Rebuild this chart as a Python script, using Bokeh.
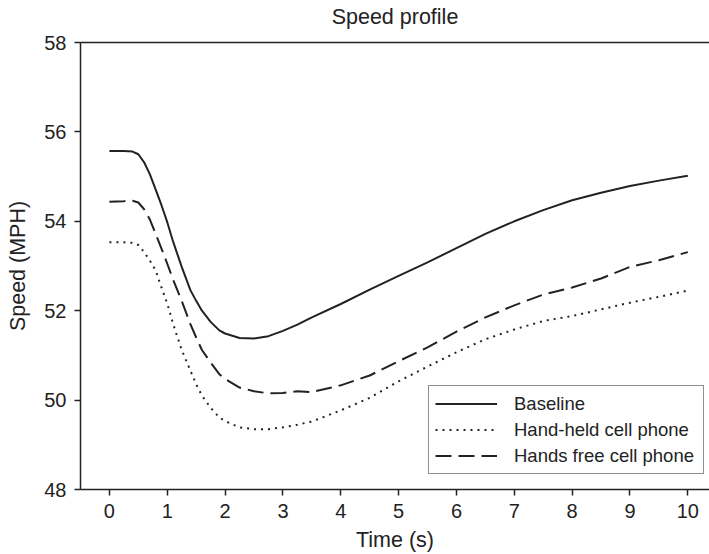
from bokeh.plotting import figure
from bokeh.models import Range1d, LinearAxis, FixedTicker, Legend, LegendItem, Title
from bokeh.embed import file_html
from bokeh.resources import INLINE

time_s = [0, 0.25, 0.4, 0.5, 0.6, 0.7, 0.8, 0.9, 1.0, 1.1, 1.25, 1.4, 1.5, 1.6, 1.75, 1.9,
          2.0, 2.25, 2.5, 2.75, 3.0, 3.25, 3.5, 4.0, 4.5, 5.0, 5.5, 6.0, 6.5, 7.0, 7.5,
          8.0, 8.5, 9.0, 9.5, 10.0]
baseline = [55.57, 55.57, 55.56, 55.50, 55.32, 55.05, 54.71, 54.36, 53.98, 53.55, 52.98,
            52.46, 52.22, 52.00, 51.75, 51.56, 51.49, 51.39, 51.38, 51.43, 51.55, 51.69,
            51.85, 52.15, 52.47, 52.78, 53.08, 53.40, 53.72, 54.00, 54.25, 54.47, 54.64,
            54.79, 54.91, 55.02]
hand_held = [53.53, 53.53, 53.52, 53.47, 53.31, 53.12, 52.90, 52.52, 52.16, 51.71, 51.12,
             50.66, 50.35, 50.10, 49.83, 49.61, 49.53, 49.39, 49.35, 49.35, 49.39, 49.45,
             49.52, 49.77, 50.05, 50.42, 50.75, 51.07, 51.36, 51.58, 51.77, 51.88, 52.03,
             52.18, 52.31, 52.45]
hands_free = [54.44, 54.45, 54.46, 54.42, 54.27, 54.04, 53.72, 53.39, 53.05, 52.70, 52.22,
              51.70, 51.40, 51.12, 50.84, 50.58, 50.47, 50.28, 50.20, 50.15, 50.16, 50.20,
              50.18, 50.33, 50.55, 50.87, 51.18, 51.53, 51.85, 52.12, 52.36, 52.52, 52.72,
              52.98, 53.13, 53.31]
x_ticks = [0, 1, 2, 3, 4, 5, 6, 7, 8, 9, 10]
y_ticks = [48, 50, 52, 54, 56, 58]
series_names = ["Baseline", "Hand-held cell phone", "Hands free cell phone"]

FONT = "Liberation Sans"
INK = "#222222"

p = figure(width=709, height=554, output_backend="svg", toolbar_location=None,
           x_range=Range1d(-0.5, 10.375), y_range=Range1d(48, 58),
           title="Speed profile", x_axis_label="Time (s)", y_axis_label="Speed (MPH)",
           min_border_left=80, min_border_right=0, min_border_top=42, min_border_bottom=65)
p.outline_line_color = None
p.xgrid.visible = False
p.ygrid.visible = False
p.background_fill_color = "white"
p.border_fill_color = "white"

p.title.text_font = FONT
p.title.text_font_size = "21.5px"
p.title.text_font_style = "normal"
p.title.text_color = INK
p.title.align = "center"
p.title.standoff = 0

for ax, ticks in ((p.xaxis[0], x_ticks), (p.yaxis[0], y_ticks)):
    ax.ticker = FixedTicker(ticks=ticks)
    ax.major_tick_in = 0
    ax.major_tick_out = 6
    ax.minor_tick_line_color = None
    ax.axis_line_color = INK
    ax.axis_line_width = 1.5
    ax.major_tick_line_color = INK
    ax.major_tick_line_width = 1.5
    ax.major_label_text_font = FONT
    ax.major_label_text_font_size = "20px"
    ax.major_label_text_color = INK
    ax.axis_label_text_font = FONT
    ax.axis_label_text_font_size = "21.5px"
    ax.axis_label_text_font_style = "normal"
    ax.axis_label_text_color = INK
    ax.major_label_standoff = 8

p.xaxis[0].axis_label_standoff = 7
p.yaxis[0].axis_label_standoff = 11

top = LinearAxis(ticker=FixedTicker(ticks=[]), major_label_text_font_size="0px",
                 major_label_standoff=0, major_tick_in=0, major_tick_out=0,
                 major_tick_line_color=None, minor_tick_line_color=None,
                 axis_line_color=INK, axis_line_width=1.5)
p.add_layout(top, "above")
# blank spacer between the frame and the title, so the title sits near the top edge
p.add_layout(Title(text=" ", text_font_size="11px", standoff=0), "above")

r1 = p.line(time_s, baseline, line_color=INK, line_width=2)
r2 = p.line(time_s, hand_held, line_color=INK, line_width=2, line_dash="2 5")
r3 = p.line(time_s, hands_free, line_color=INK, line_width=2, line_dash="16 7")

legend = Legend(items=[LegendItem(label=series_names[0], renderers=[r1]),
                       LegendItem(label=series_names[1], renderers=[r2]),
                       LegendItem(label=series_names[2], renderers=[r3])],
                location=(348, 15))
legend.label_text_font = FONT
legend.label_text_font_size = "18.5px"
legend.label_text_color = INK
legend.glyph_width = 62
legend.glyph_height = 23
legend.label_height = 23
legend.label_width = 183
legend.label_standoff = 17
legend.spacing = 3
legend.padding = 6
legend.margin = 0
legend.border_line_color = INK
legend.border_line_width = 1.5
legend.background_fill_alpha = 1
p.add_layout(legend, "center")

open("out.html", "w").write(file_html(p, INLINE))
